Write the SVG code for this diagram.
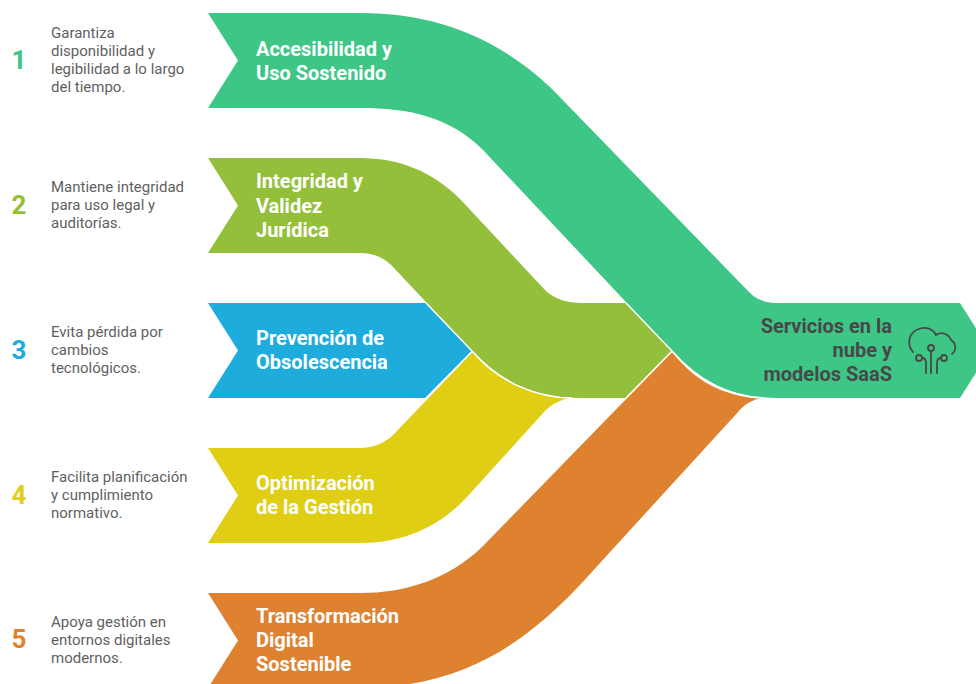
<svg xmlns="http://www.w3.org/2000/svg" width="976" height="684" viewBox="0 0 976 684">
<style>
.w{fill:none;stroke:#fff;stroke-width:1.5}
.t{font-family:Roboto,"Liberation Sans",sans-serif;font-weight:700;font-size:20px;fill:#fff}
.d{font-family:Roboto,"Liberation Sans",sans-serif;font-size:15px;fill:#5f5f5f}
.n{font-family:Roboto,"Liberation Sans",sans-serif;font-weight:700;font-size:26px;text-anchor:middle}
.c{font-family:Roboto,"Liberation Sans",sans-serif;font-weight:700;font-size:20px;fill:#484848;text-anchor:end}
.i{fill:none;stroke:#484848;stroke-width:1.8;stroke-linecap:round;stroke-linejoin:round}
</style>
<rect width="976" height="684" fill="#fff"/>
<g id="connectors"></g>
<g id="node-3">
<path fill="#1EACDD" d="M208 303H426L472.500 351L426 398H208L238 350.500Z"/>
<text class="t"><tspan x="256" y="345">Prevención de</tspan><tspan x="256" y="369">Obsolescencia</tspan></text>
<text class="n" x="19" y="359" fill="#1EACDD">3</text>
<text class="d"><tspan x="51" y="337">Evita pérdida por</tspan><tspan x="51" y="355">cambios</tspan><tspan x="51" y="373">tecnológicos.</tspan></text>
</g>
<g id="node-4">
<path fill="#E0CE14" d="M208 448H360C373 448 385 443 394 434L472.500 352C495 380 530 396 569 398C560 400 552 404 545 411L467 497C440 526 405 543 360 543H208L238 495.500Z"/>
<path class="w" d="M472.500 351L426 398"/>
<text class="t"><tspan x="256" y="490">Optimización</tspan><tspan x="256" y="514">de la Gestión</tspan></text>
<text class="n" x="19" y="504" fill="#E0CE14">4</text>
<text class="d"><tspan x="51" y="482">Facilita planificación</tspan><tspan x="51" y="500">y cumplimiento</tspan><tspan x="51" y="518">normativo.</tspan></text>
</g>
<g id="node-5">
<path fill="#DE8230" d="M208 593H360C405 593 448 580 483 546L672 352C695 380 720 396 761 398C752 400 745 404 739 411L600 563C545 625 480 688 360 688H208L238 640.500Z"/>
<text class="t"><tspan x="256" y="623">Transformación</tspan><tspan x="256" y="647">Digital</tspan><tspan x="256" y="671">Sostenible</tspan></text>
<text class="n" x="19" y="648" fill="#DE8230">5</text>
<text class="d"><tspan x="51" y="627">Apoya gestión en</tspan><tspan x="51" y="645">entornos digitales</tspan><tspan x="51" y="663">modernos.</tspan></text>
</g>
<g id="node-2">
<path fill="#93BF3B" d="M208 158H360C400 158 433 172 460 199L545 290C554 299 567 303 582 303H626L672 351L626 398H582C535 398 500 382 472 351L394 268C385 258 374 253 360 253H208L238 205.500Z"/>
<path class="w" d="M426 303L472 351C500 382 535 398 572 398M672 351L626 398"/>
<text class="t"><tspan x="256" y="188">Integridad y</tspan><tspan x="256" y="212.500">Validez</tspan><tspan x="256" y="236.500">Jurídica</tspan></text>
<text class="n" x="19" y="214" fill="#93BF3B">2</text>
<text class="d"><tspan x="51" y="192">Mantiene integridad</tspan><tspan x="51" y="210">para uso legal y</tspan><tspan x="51" y="228">auditorías.</tspan></text>
</g>
<g id="node-1">
<path fill="#3EC687" d="M208 13H360C440 13 500 40 552 89L750 293C757 300 767 303 778 303H960L990 350.500L960 398H778C732 398 698 381 672 351L483 150C450 117 410 108 360 108H208L238 60.500Z"/>
<path class="w" d="M626 303L672 351C698 381 732 398 764 398"/>
<text class="t"><tspan x="256" y="56">Accesibilidad y</tspan><tspan x="256" y="80">Uso Sostenido</tspan></text>
<text class="n" x="19" y="69" fill="#3EC687">1</text>
<text class="d"><tspan x="51" y="38">Garantiza</tspan><tspan x="51" y="56">disponibilidad y</tspan><tspan x="51" y="74">legibilidad a lo largo</tspan><tspan x="51" y="92">del tiempo.</tspan></text>
</g>
<g id="node-center">
<text class="c"><tspan x="892" y="333">Servicios en la</tspan><tspan x="892" y="357">nube y</tspan><tspan x="892" y="381">modelos SaaS</tspan></text>
<path class="i" d="M913 352C906 344 909 332 919 329C926 326 933 329 936 335C941 331 949 334 951 340C956 343 957 350 952 354"/>
<circle class="i" cx="931" cy="348" r="3"/><path class="i" d="M931 351V373"/>
<circle class="i" cx="919" cy="358" r="3"/><path class="i" d="M922 358C925 358 926 360 926 363V373"/>
<circle class="i" cx="944" cy="358" r="3"/><path class="i" d="M941 358C938 358 937 360 937 363V373"/>
</g>
</svg>
